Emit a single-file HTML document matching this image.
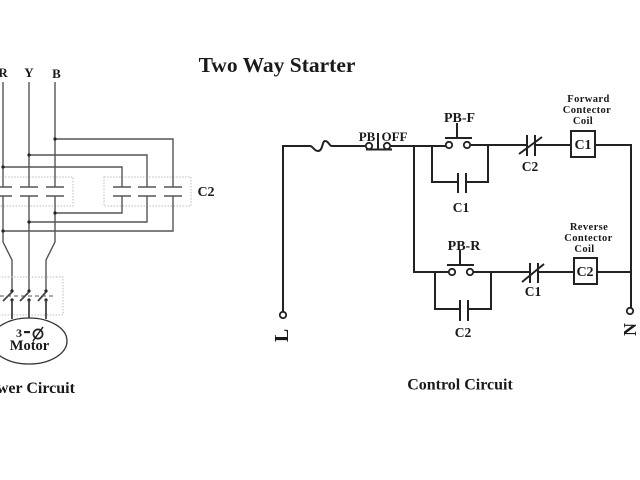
<!DOCTYPE html>
<html>
<head>
<meta charset="utf-8">
<style>
html,body{margin:0;padding:0;background:#fff;width:640px;height:480px;overflow:hidden}
svg{display:block;filter:blur(0.35px)}
text{font-family:"Liberation Serif",serif;font-weight:bold;fill:#1a1a1a;text-anchor:middle}
.w{fill:none;stroke:#222;stroke-width:2}
.p{fill:none;stroke:#555;stroke-width:1.4}
.pd{fill:none;stroke:#444;stroke-width:1.8}
.d{fill:none;stroke:#bbb;stroke-width:1;stroke-dasharray:1.5 1.5}
.c{fill:#fff;stroke:#222;stroke-width:1.8}
.s{font-size:10.5px;letter-spacing:0.4px}
</style>
</head>
<body>
<svg width="640" height="480" viewBox="0 0 640 480" xmlns="http://www.w3.org/2000/svg">
<rect width="640" height="480" fill="#fff"/>
<text x="277" y="72" font-size="21.5">Two Way Starter</text>

<!-- Power circuit -->
<text x="3" y="77" font-size="13">R</text>
<text x="29" y="77" font-size="13">Y</text>
<text x="56.500" y="78" font-size="13">B</text>

<rect class="d" x="-10" y="177" width="83" height="29"/>
<rect class="d" x="104" y="177" width="87" height="29"/>

<path class="p" d="M3 82V187M29 82V187M55 82V187"/>
<path class="p" d="M55 139H173V187M29 155H147V187M3 167H122V187"/>
<path class="p" d="M122 196V213H55M147 196V222H29M173 196V231H3"/>
<path class="p" d="M3 196V242L12 260V292M29 196V292M55 196V242L46 260V292"/>
<path class="p" d="M-6 187H12M-6 196H12M20 187H38M20 196H38M46 187H64M46 196H64M113 187H131M113 196H131M138 187H156M138 196H156M164 187H182M164 196H182"/>
<g fill="#222">
<circle cx="55" cy="139" r="1.6"/><circle cx="29" cy="155" r="1.6"/><circle cx="3" cy="167" r="1.6"/>
<circle cx="55" cy="213" r="1.6"/><circle cx="29" cy="222" r="1.6"/><circle cx="3" cy="231" r="1.6"/>
<circle cx="12" cy="291" r="1.6"/><circle cx="29" cy="291" r="1.6"/><circle cx="46" cy="291" r="1.6"/>
<circle cx="12" cy="300" r="1.6"/><circle cx="29" cy="300" r="1.6"/><circle cx="46" cy="300" r="1.6"/>
</g>
<text x="206" y="196" font-size="14">C2</text>

<rect class="d" x="-10" y="277" width="73" height="38"/>
<path class="pd" d="M12 292L3 301M29 292L20 301M46 292L38 301"/>
<path d="M0 296H54" fill="none" stroke="#555" stroke-width="1" stroke-dasharray="4 3"/>
<path class="pd" d="M12 300V319M29 300V318M46 300V319"/>
<ellipse cx="29" cy="341" rx="38" ry="23" fill="#fff" stroke="#333" stroke-width="1.3"/>
<text x="19" y="337" font-size="12">3</text>
<rect x="24" y="331" width="6" height="2.2" fill="#222"/>
<circle cx="38" cy="334" r="4.600" fill="none" stroke="#222" stroke-width="1.7"/>
<path d="M33 341L43 327" stroke="#222" stroke-width="1.5"/>
<text x="29.500" y="350" font-size="14.500">Motor</text>
<text x="27" y="393" font-size="16">Power Circuit</text>

<!-- Control circuit -->
<path class="w" d="M283 312V146H310C313 146 314 151 318 151C323 151 322 141 325 141C329 141 329 146 332 146H366"/>
<path class="w" d="M390 146H446M432 146V182H458M466 182H488V145"/>
<path class="w" d="M414 146V272H449"/>
<path class="w" d="M470 145H527M535 145H571M595 145H631V308"/>
<circle class="c" cx="369" cy="146" r="3.200"/>
<circle class="c" cx="387" cy="146" r="3.200"/>
<path class="w" d="M366 149.500H392M378 133V149"/>
<text x="367" y="141" font-size="13">PB</text>
<text x="394.500" y="141" font-size="13">OFF</text>

<circle class="c" cx="449" cy="145" r="3.200"/>
<circle class="c" cx="467" cy="145" r="3.200"/>
<path class="w" d="M445 138H472M457 123V138"/>
<text x="459.500" y="122" font-size="14">PB-F</text>
<path class="w" d="M458 173V193M466 173V193"/>
<text x="461" y="212" font-size="13.500">C1</text>

<path class="w" d="M527 135V156M535 135V156M519 154L542 137"/>
<text x="530" y="171" font-size="13.500">C2</text>
<rect x="571" y="131" width="24" height="26" fill="#fff" stroke="#222" stroke-width="2"/>
<text x="583" y="149" font-size="14">C1</text>
<text class="s" x="588.500" y="102">Forward</text>
<text class="s" x="587" y="113">Contector</text>
<text class="s" x="583" y="124">Coil</text>

<path class="w" d="M435 272V309H460M468 309H491V272"/>
<circle class="c" cx="452" cy="272" r="3.200"/>
<circle class="c" cx="470" cy="272" r="3.200"/>
<path class="w" d="M447 265H474M460 250V265"/>
<text x="464" y="250" font-size="14">PB-R</text>
<path class="w" d="M460 300V321M468 300V321"/>
<text x="463" y="337" font-size="13.500">C2</text>

<path class="w" d="M473 272H530M530 263V283M538 263V283M522 282L544 264M538 272H574M597 272H631"/>
<text x="533" y="296" font-size="13.500">C1</text>
<rect x="574" y="258" width="23" height="26" fill="#fff" stroke="#222" stroke-width="2"/>
<text x="585" y="276" font-size="14">C2</text>
<text class="s" x="589" y="230">Reverse</text>
<text class="s" x="588.500" y="241">Contector</text>
<text class="s" x="584.500" y="252">Coil</text>

<circle class="c" cx="283" cy="315" r="3.200"/>
<circle class="c" cx="630" cy="311" r="3.200"/>
<text transform="translate(288 335.500) rotate(-90)" font-size="20">L</text>
<text transform="translate(636 329.500) rotate(-90)" font-size="18">N</text>
<text x="460" y="389.500" font-size="16">Control Circuit</text>
</svg>
</body>
</html>
